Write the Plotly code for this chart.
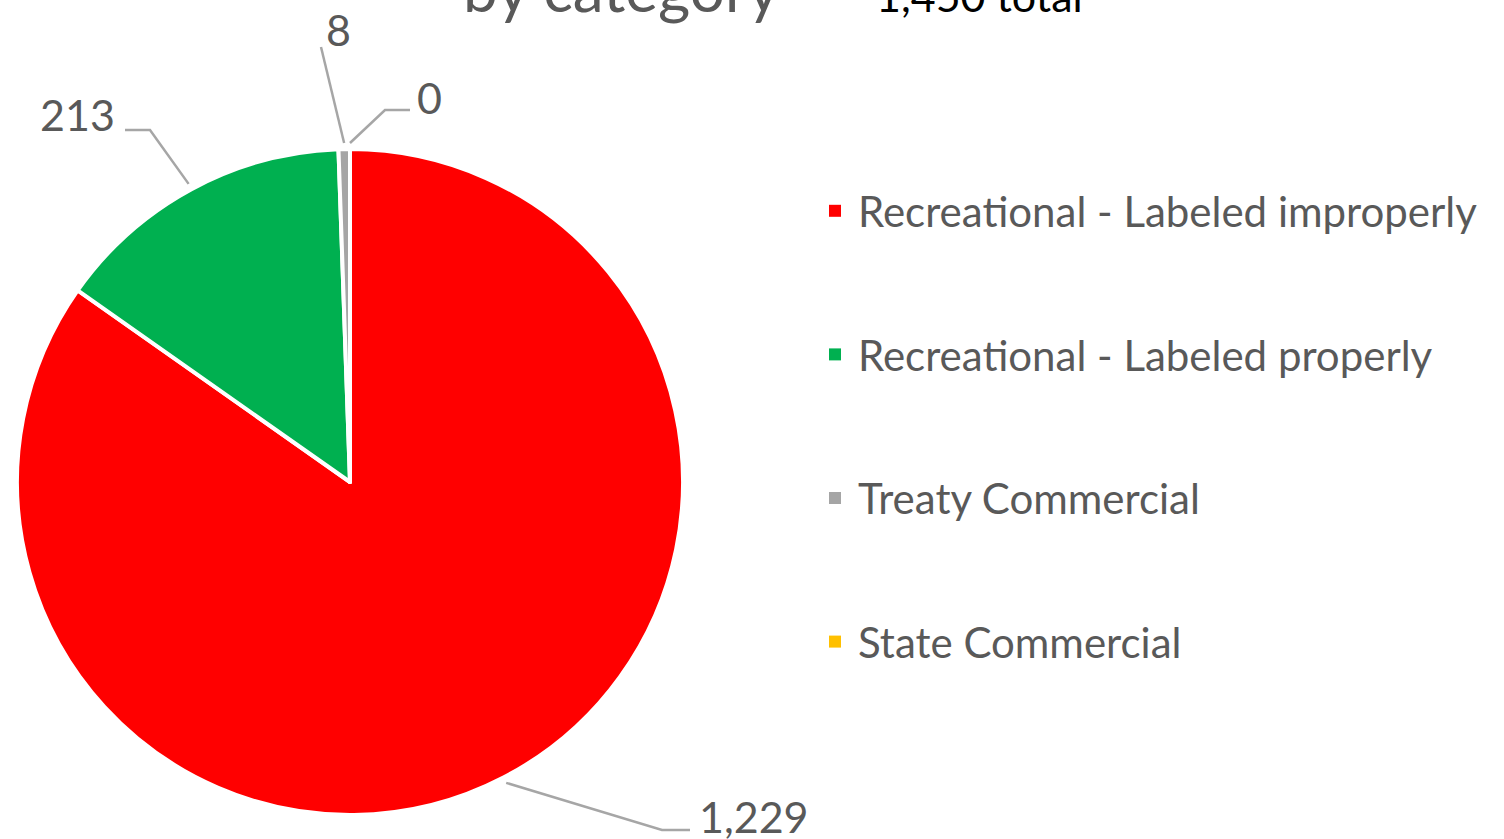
import math
import plotly.graph_objects as go

# ---- data ----
categories = ["Recreational - Labeled improperly", "Recreational - Labeled properly",
              "Treaty Commercial", "State Commercial"]
values = [1229, 213, 8, 0]
colors = ["#FF0000", "#00B050", "#A5A5A5", "#FFC000"]
title_text = "by category"
total_text = "1,450 total"

W, H = 1504, 839
def px(x): return x / W
def py(y): return 1 - y / H

# pie geometry (pixels)
cx, cy, r = 350, 482, 333

fig = go.Figure()
fig.add_trace(go.Pie(
    labels=categories, values=values, sort=False, direction="clockwise", rotation=0,
    marker=dict(colors=colors, line=dict(color="white", width=4)),
    textinfo="none", showlegend=False, hoverinfo="label+value",
    domain=dict(x=[px(cx - r), px(cx + r)], y=[py(cy + r), py(cy - r)]),
))

# legend via dummy traces
for i, (c, col) in enumerate(zip(categories, colors)):
    fig.add_trace(go.Scatter(x=[None], y=[None], mode="markers", name=c,
                             legendgroup=f"g{i}",
                             marker=dict(symbol="square", size=17, color=col)))

# label layout (knee, end, label anchor) in pixels
label_layout = [
    dict(knee=(662, 830), end=(690, 830), lx=697, ly=816, anchor="left"),
    dict(knee=(150, 130), end=(125, 130), lx=117, ly=114, anchor="right"),
    dict(knee=None, end=(321, 47), lx=338, ly=30, anchor="center"),
    dict(knee=(385, 110), end=(410, 110), lx=415, ly=97, anchor="left"),
]

total = sum(values)
cum = 0
for v, lay in zip(values, label_layout):
    mid = (cum + v / 2) / total * 2 * math.pi
    cum += v
    rr = r + 6
    ex, ey = cx + rr * math.sin(mid), cy - rr * math.cos(mid)
    pts = [(ex, ey)]
    if lay["knee"]:
        pts.append(lay["knee"])
    pts.append(lay["end"])
    path = "M " + " L ".join(f"{px(a)},{py(b)}" for a, b in pts)
    fig.add_shape(type="path", path=path, xref="paper", yref="paper",
                  line=dict(color="#A6A6A6", width=2.5))
    fig.add_annotation(x=px(lay["lx"]), y=py(lay["ly"]), xref="paper", yref="paper",
                       text=f"{v:,}", showarrow=False, xanchor=lay["anchor"], yanchor="middle",
                       font=dict(family="Lato", size=43, color="#595959"))

# title (cut off at top, as in the source)
fig.add_annotation(x=px(782), y=py(27), xref="paper", yref="paper", text=title_text,
                   showarrow=False, xanchor="right", yanchor="bottom",
                   font=dict(family="Lato", size=62, color="#595959"))
fig.add_annotation(x=px(874), y=py(23), xref="paper", yref="paper", text=total_text,
                   showarrow=False, xanchor="left", yanchor="bottom",
                   font=dict(family="Lato", size=43, color="#000000"))

fig.update_layout(
    width=W, height=H, margin=dict(l=0, r=0, t=0, b=0),
    paper_bgcolor="white", plot_bgcolor="white",
    xaxis=dict(visible=False), yaxis=dict(visible=False),
    legend=dict(x=px(812), y=py(177), xanchor="left", yanchor="top",
                traceorder="grouped", tracegroupgap=86, itemsizing="constant",
                itemwidth=36,
                font=dict(family="Lato", size=42, color="#595959"),
                bgcolor="rgba(0,0,0,0)"),
)

fig.write_html("out.html")
